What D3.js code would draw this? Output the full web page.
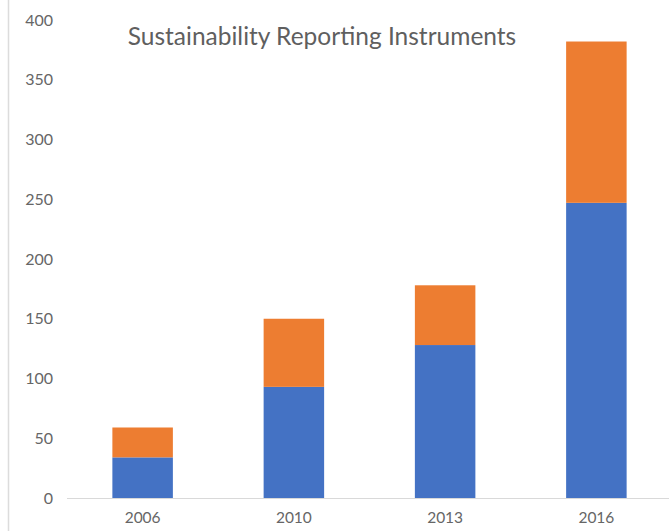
<!DOCTYPE html>
<html>
<head>
<meta charset="utf-8">
<script src="https://cdn.jsdelivr.net/npm/d3@7"></script>
<style>
  html, body { margin: 0; padding: 0; background: #fff; }
  svg { display: block; }
</style>
</head>
<body>
<svg id="chart" width="669" height="531"></svg>
<script>
// Sustainability reporting instruments by year, stacked in two groups
const years = ["2006", "2010", "2013", "2016"];
const lowerSeries = [34, 93, 128, 247];
const upperSeries = [25, 57, 50, 135];
const yTicks = [0, 50, 100, 150, 200, 250, 300, 350, 400];
const title = "Sustainability Reporting Instruments";

const colors = { lower: "#4472C4", upper: "#ED7D31" };
const textColor = "#666666";
const titleColor = "#5f5f5f";
const fontFamily = "Lato, 'Open Sans', 'Noto Sans', sans-serif";

const svg = d3.select("#chart");

const x = d3.scaleBand()
  .domain(years)
  .range([67, 672])
  .paddingInner(0.6)
  .paddingOuter(0.3);

const y = d3.scaleLinear()
  .domain([0, 400])
  .range([498, 20]);

// frame edge on the left
svg.append("line")
  .attr("x1", 8.5).attr("x2", 8.5)
  .attr("y1", 0).attr("y2", 531)
  .attr("stroke", "#dcdcdc")
  .attr("stroke-width", 1.5);

// stacked data
const rows = years.map((yr, i) => ({ year: yr, lower: lowerSeries[i], upper: upperSeries[i] }));
const stacked = d3.stack().keys(["lower", "upper"])(rows);

svg.append("g")
  .selectAll("g")
  .data(stacked)
  .join("g")
  .attr("fill", d => colors[d.key])
  .selectAll("rect")
  .data(d => d)
  .join("rect")
  .attr("x", d => x(d.data.year))
  .attr("width", x.bandwidth())
  .attr("y", d => y(d[1]))
  .attr("height", d => y(d[0]) - y(d[1]));

// baseline
svg.append("line")
  .attr("x1", 67).attr("x2", 669)
  .attr("y1", y(0) + 0.5).attr("y2", y(0) + 0.5)
  .attr("stroke", "#d9d9d9")
  .attr("stroke-width", 1);

// y axis labels
const yAxis = d3.axisLeft(y).tickValues(yTicks).tickSize(0).tickPadding(0);
const yg = svg.append("g")
  .attr("transform", "translate(53,0)")
  .call(yAxis);
yg.select(".domain").remove();
yg.selectAll("text")
  .attr("fill", textColor)
  .attr("font-family", fontFamily)
  .attr("font-size", 16);

// x axis labels
const xAxis = d3.axisBottom(x).tickSize(0).tickPadding(0);
const xg = svg.append("g")
  .attr("transform", `translate(0,${y(0) + 14})`)
  .call(xAxis);
xg.select(".domain").remove();
xg.selectAll("text")
  .attr("fill", textColor)
  .attr("font-family", fontFamily)
  .attr("font-size", 15.5);

// title
svg.append("text")
  .attr("x", 322)
  .attr("y", 45)
  .attr("text-anchor", "middle")
  .attr("fill", titleColor)
  .attr("font-family", fontFamily)
  .attr("font-size", 24.5)
  .text(title);
</script>
</body>
</html>
